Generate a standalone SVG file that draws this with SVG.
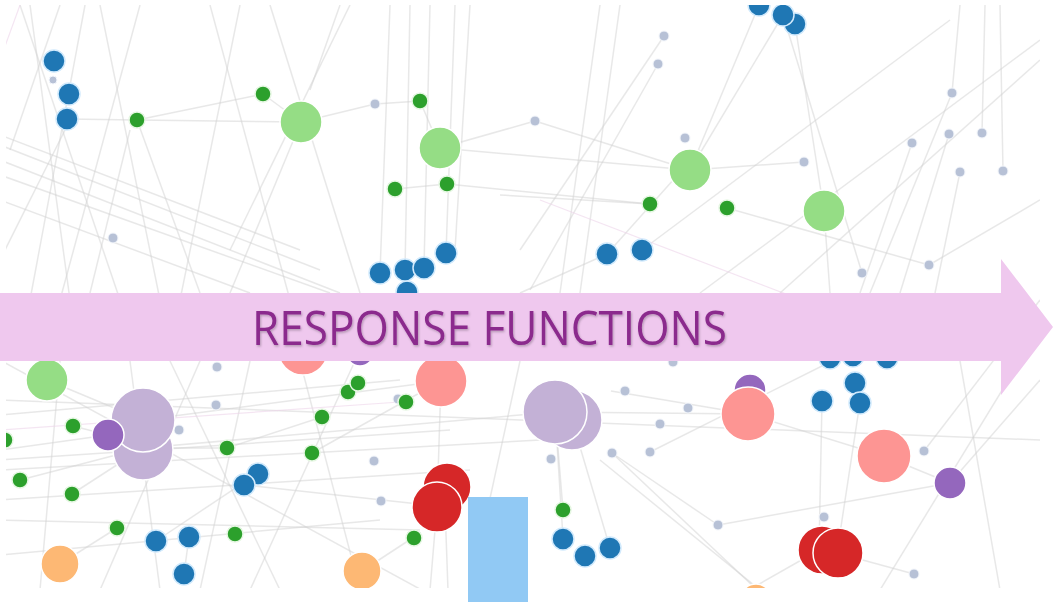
<svg xmlns="http://www.w3.org/2000/svg" width="1053" height="602" viewBox="0 0 1053 602">
<style>
.e{stroke:#d2d2d2;stroke-opacity:.5;stroke-width:1.5;fill:none}
.ep{stroke:#ecd3ea;stroke-opacity:.6;stroke-width:1.2}
.n circle{stroke:#fff;stroke-width:1.5}
.b{fill:#1f77b4;stroke:#d2eafc!important}
.g{fill:#2ca02c;stroke:#e6f7e3!important}
.lg{fill:#95dd85}
.s{fill:#b7c1d6;stroke:#f4f7fc!important;stroke-width:1!important}
.lp{fill:#c3b1d6}
.p{fill:#9467bd}
.r{fill:#d62728}
.lr{fill:#fd9593}
.o{fill:#fdb874}
</style>
<defs>
<clipPath id="cl"><rect x="6" y="5" width="1034" height="583"/></clipPath>
<filter id="sh" x="-5%" y="-20%" width="110%" height="140%"><feDropShadow dx="1" dy="1.5" stdDeviation="1" flood-color="#000" flood-opacity=".25"/></filter>
</defs>
<rect width="1053" height="602" fill="#fff"/>
<g clip-path="url(#cl)">
<g id="connectors" class="e">
<line x1="20" y1="5" x2="120" y2="300"/>
<line x1="60" y1="5" x2="10" y2="150"/>
<line x1="100" y1="5" x2="160" y2="300"/>
<line x1="140" y1="5" x2="60" y2="300"/>
<line x1="210" y1="5" x2="290" y2="300"/>
<line x1="70" y1="120" x2="0" y2="260"/>
<line x1="0" y1="160" x2="340" y2="293"/>
<line x1="0" y1="175" x2="330" y2="293"/>
<line x1="0" y1="200" x2="250" y2="293"/>
<line x1="0" y1="135" x2="300" y2="250"/>
<line x1="0" y1="145" x2="320" y2="270"/>
<line x1="30" y1="5" x2="70" y2="300"/>
<line x1="85" y1="5" x2="30" y2="300"/>
<line x1="240" y1="5" x2="180" y2="300"/>
<line x1="270" y1="5" x2="360" y2="293"/>
<line x1="67" y1="119" x2="137" y2="120"/>
<line x1="137" y1="120" x2="263" y2="94"/>
<line x1="137" y1="120" x2="301" y2="122"/>
<line x1="263" y1="94" x2="301" y2="122"/>
<line x1="301" y1="122" x2="375" y2="104"/>
<line x1="375" y1="104" x2="420" y2="101"/>
<line x1="420" y1="101" x2="440" y2="148"/>
<line x1="301" y1="122" x2="230" y2="293"/>
<line x1="137" y1="120" x2="200" y2="293"/>
<line x1="130" y1="130" x2="90" y2="293"/>
<line x1="340" y1="5" x2="310" y2="90"/>
<line x1="350" y1="5" x2="230" y2="250"/>
<line x1="390" y1="5" x2="380" y2="273"/>
<line x1="410" y1="5" x2="405" y2="270"/>
<line x1="455" y1="5" x2="446" y2="253"/>
<line x1="430" y1="5" x2="424" y2="268"/>
<line x1="470" y1="5" x2="455" y2="250"/>
<line x1="440" y1="148" x2="535" y2="121"/>
<line x1="447" y1="184" x2="650" y2="204"/>
<line x1="395" y1="189" x2="447" y2="184"/>
<line x1="440" y1="148" x2="690" y2="170"/>
<line x1="535" y1="121" x2="690" y2="170"/>
<line x1="664" y1="36" x2="520" y2="250"/>
<line x1="658" y1="64" x2="530" y2="290"/>
<line x1="690" y1="170" x2="759" y2="5"/>
<line x1="690" y1="170" x2="783" y2="15"/>
<line x1="795" y1="24" x2="824" y2="211"/>
<line x1="783" y1="15" x2="862" y2="273"/>
<line x1="690" y1="170" x2="804" y2="162"/>
<line x1="727" y1="208" x2="929" y2="265"/>
<line x1="650" y1="204" x2="500" y2="195"/>
<line x1="607" y1="254" x2="700" y2="150"/>
<line x1="642" y1="250" x2="950" y2="20"/>
<line x1="607" y1="254" x2="520" y2="293"/>
<line x1="824" y1="211" x2="830" y2="293"/>
<line x1="912" y1="143" x2="860" y2="293"/>
<line x1="952" y1="93" x2="960" y2="5"/>
<line x1="949" y1="134" x2="900" y2="293"/>
<line x1="982" y1="133" x2="985" y2="5"/>
<line x1="960" y1="172" x2="935" y2="293"/>
<line x1="1003" y1="171" x2="1000" y2="5"/>
<line x1="952" y1="93" x2="870" y2="293"/>
<line x1="700" y1="293" x2="1040" y2="40"/>
<line x1="780" y1="293" x2="1040" y2="60"/>
<line x1="929" y1="265" x2="1040" y2="200"/>
<line x1="600" y1="5" x2="560" y2="293"/>
<line x1="620" y1="5" x2="580" y2="293"/>
<line x1="47" y1="380" x2="143" y2="420"/>
<line x1="108" y1="435" x2="0" y2="450"/>
<line x1="143" y1="420" x2="441" y2="381"/>
<line x1="143" y1="448" x2="555" y2="412"/>
<line x1="0" y1="400" x2="1040" y2="440"/>
<line x1="0" y1="470" x2="540" y2="440"/>
<line x1="0" y1="500" x2="470" y2="470"/>
<line x1="0" y1="520" x2="420" y2="530"/>
<line x1="0" y1="555" x2="380" y2="520"/>
<line x1="0" y1="415" x2="400" y2="380"/>
<line x1="0" y1="460" x2="450" y2="430"/>
<line x1="108" y1="435" x2="73" y2="426"/>
<line x1="20" y1="480" x2="143" y2="448"/>
<line x1="72" y1="494" x2="143" y2="448"/>
<line x1="143" y1="448" x2="227" y2="448"/>
<line x1="227" y1="448" x2="322" y2="417"/>
<line x1="312" y1="453" x2="441" y2="381"/>
<line x1="244" y1="485" x2="437" y2="506"/>
<line x1="156" y1="541" x2="258" y2="473"/>
<line x1="184" y1="574" x2="189" y2="537"/>
<line x1="60" y1="564" x2="117" y2="528"/>
<line x1="362" y1="571" x2="414" y2="537"/>
<line x1="437" y1="506" x2="441" y2="381"/>
<line x1="437" y1="506" x2="430" y2="590"/>
<line x1="445" y1="506" x2="448" y2="590"/>
<line x1="555" y1="412" x2="563" y2="510"/>
<line x1="563" y1="538" x2="555" y2="412"/>
<line x1="572" y1="420" x2="610" y2="548"/>
<line x1="555" y1="412" x2="748" y2="414"/>
<line x1="611" y1="391" x2="748" y2="414"/>
<line x1="612" y1="453" x2="718" y2="525"/>
<line x1="650" y1="452" x2="830" y2="362"/>
<line x1="748" y1="414" x2="884" y2="456"/>
<line x1="884" y1="456" x2="950" y2="483"/>
<line x1="822" y1="401" x2="819" y2="550"/>
<line x1="860" y1="402" x2="837" y2="553"/>
<line x1="837" y1="553" x2="914" y2="574"/>
<line x1="754" y1="587" x2="819" y2="550"/>
<line x1="718" y1="525" x2="950" y2="483"/>
<line x1="612" y1="453" x2="754" y2="587"/>
<line x1="950" y1="483" x2="1040" y2="380"/>
<line x1="924" y1="451" x2="1040" y2="300"/>
<line x1="0" y1="360" x2="440" y2="600"/>
<line x1="200" y1="361" x2="100" y2="590"/>
<line x1="300" y1="361" x2="360" y2="590"/>
<line x1="520" y1="361" x2="470" y2="590"/>
<line x1="60" y1="361" x2="40" y2="590"/>
<line x1="250" y1="361" x2="200" y2="590"/>
<line x1="355" y1="361" x2="250" y2="590"/>
<line x1="130" y1="361" x2="160" y2="590"/>
<line x1="170" y1="361" x2="280" y2="590"/>
<line x1="600" y1="460" x2="760" y2="590"/>
<line x1="960" y1="361" x2="1000" y2="590"/>
<line x1="1020" y1="361" x2="880" y2="590"/>
<line class="ep" x1="0" y1="430" x2="400" y2="402"/>
<line class="ep" x1="540" y1="200" x2="880" y2="330"/>
<line class="ep" x1="20" y1="5" x2="0" y2="60"/>
</g>
<g class="n">
<g id="n1"><circle class="b" cx="54" cy="61" r="11"/></g>
<g id="n2"><circle class="s" cx="53" cy="80" r="4"/></g>
<g id="n3"><circle class="b" cx="69" cy="94" r="11"/></g>
<g id="n4"><circle class="b" cx="67" cy="119" r="11"/></g>
<g id="n5"><circle class="g" cx="137" cy="120" r="8"/></g>
<g id="n6"><circle class="g" cx="263" cy="94" r="8"/></g>
<g id="n7"><circle class="lg" cx="301" cy="122" r="21"/></g>
<g id="n8"><circle class="s" cx="375" cy="104" r="5"/></g>
<g id="n9"><circle class="g" cx="420" cy="101" r="8"/></g>
<g id="n10"><circle class="lg" cx="440" cy="148" r="21"/></g>
<g id="n11"><circle class="g" cx="395" cy="189" r="8"/></g>
<g id="n12"><circle class="g" cx="447" cy="184" r="8"/></g>
<g id="n13"><circle class="s" cx="113" cy="238" r="5"/></g>
<g id="n14"><circle class="b" cx="407" cy="292" r="11"/></g>
<g id="n15"><circle class="b" cx="380" cy="273" r="11"/></g>
<g id="n16"><circle class="b" cx="405" cy="270" r="11"/></g>
<g id="n17"><circle class="b" cx="424" cy="268" r="11"/></g>
<g id="n18"><circle class="b" cx="446" cy="253" r="11"/></g>
<g id="n19"><circle class="b" cx="759" cy="5" r="11"/></g>
<g id="n20"><circle class="b" cx="795" cy="24" r="11"/></g>
<g id="n21"><circle class="b" cx="783" cy="15" r="11"/></g>
<g id="n22"><circle class="s" cx="664" cy="36" r="5"/></g>
<g id="n23"><circle class="s" cx="658" cy="64" r="5"/></g>
<g id="n24"><circle class="s" cx="535" cy="121" r="5"/></g>
<g id="n25"><circle class="s" cx="685" cy="138" r="5"/></g>
<g id="n26"><circle class="lg" cx="690" cy="170" r="21"/></g>
<g id="n27"><circle class="g" cx="650" cy="204" r="8"/></g>
<g id="n28"><circle class="g" cx="727" cy="208" r="8"/></g>
<g id="n29"><circle class="s" cx="804" cy="162" r="5"/></g>
<g id="n30"><circle class="lg" cx="824" cy="211" r="21"/></g>
<g id="n31"><circle class="b" cx="607" cy="254" r="11"/></g>
<g id="n32"><circle class="b" cx="642" cy="250" r="11"/></g>
<g id="n33"><circle class="s" cx="862" cy="273" r="5"/></g>
<g id="n34"><circle class="s" cx="929" cy="265" r="5"/></g>
<g id="n35"><circle class="s" cx="912" cy="143" r="5"/></g>
<g id="n36"><circle class="s" cx="952" cy="93" r="5"/></g>
<g id="n37"><circle class="s" cx="949" cy="134" r="5"/></g>
<g id="n38"><circle class="s" cx="982" cy="133" r="5"/></g>
<g id="n39"><circle class="s" cx="960" cy="172" r="5"/></g>
<g id="n40"><circle class="s" cx="1003" cy="171" r="5"/></g>
<g id="n41"><circle class="lg" cx="47" cy="380" r="21"/></g>
<g id="n42"><circle class="lr" cx="303" cy="350" r="25"/></g>
<g id="n43"><circle class="p" cx="360" cy="352" r="14"/></g>
<g id="n44"><circle class="lr" cx="441" cy="381" r="26"/></g>
<g id="n45"><circle class="g" cx="348" cy="392" r="8"/></g>
<g id="n46"><circle class="g" cx="358" cy="383" r="8"/></g>
<g id="n47"><circle class="s" cx="217" cy="367" r="5"/></g>
<g id="n48"><circle class="s" cx="216" cy="405" r="5"/></g>
<g id="n49"><circle class="s" cx="179" cy="430" r="5"/></g>
<g id="n50"><circle class="lp" cx="143" cy="450" r="30"/></g>
<g id="n51"><circle class="lp" cx="143" cy="420" r="32"/></g>
<g id="n52"><circle class="p" cx="108" cy="435" r="16"/></g>
<g id="n53"><circle class="g" cx="73" cy="426" r="8"/></g>
<g id="n54"><circle class="g" cx="5" cy="440" r="8"/></g>
<g id="n55"><circle class="g" cx="20" cy="480" r="8"/></g>
<g id="n56"><circle class="g" cx="72" cy="494" r="8"/></g>
<g id="n57"><circle class="g" cx="227" cy="448" r="8"/></g>
<g id="n58"><circle class="g" cx="322" cy="417" r="8"/></g>
<g id="n59"><circle class="g" cx="312" cy="453" r="8"/></g>
<g id="n60"><circle class="s" cx="398" cy="399" r="5"/></g>
<g id="n61"><circle class="g" cx="406" cy="402" r="8"/></g>
<g id="n62"><circle class="s" cx="374" cy="461" r="5"/></g>
<g id="n63"><circle class="s" cx="381" cy="501" r="5"/></g>
<g id="n64"><circle class="b" cx="258" cy="474" r="11"/></g>
<g id="n65"><circle class="b" cx="244" cy="485" r="11"/></g>
<g id="n66"><circle class="g" cx="117" cy="528" r="8"/></g>
<g id="n67"><circle class="b" cx="156" cy="541" r="11"/></g>
<g id="n68"><circle class="b" cx="189" cy="537" r="11"/></g>
<g id="n69"><circle class="b" cx="184" cy="574" r="11"/></g>
<g id="n70"><circle class="g" cx="235" cy="534" r="8"/></g>
<g id="n71"><circle class="o" cx="60" cy="564" r="19"/></g>
<g id="n72"><circle class="o" cx="362" cy="571" r="19"/></g>
<g id="n73"><circle class="r" cx="447" cy="487" r="24"/></g>
<g id="n74"><circle class="r" cx="437" cy="507" r="25"/></g>
<g id="n75"><circle class="g" cx="414" cy="538" r="8"/></g>
<g id="n76"><circle class="lp" cx="572" cy="420" r="30"/></g>
<g id="n77"><circle class="lp" cx="555" cy="412" r="32"/></g>
<g id="n78"><circle class="s" cx="551" cy="459" r="5"/></g>
<g id="n79"><circle class="s" cx="625" cy="391" r="5"/></g>
<g id="n80"><circle class="s" cx="688" cy="408" r="5"/></g>
<g id="n81"><circle class="s" cx="660" cy="424" r="5"/></g>
<g id="n82"><circle class="s" cx="612" cy="453" r="5"/></g>
<g id="n83"><circle class="s" cx="650" cy="452" r="5"/></g>
<g id="n84"><circle class="s" cx="673" cy="362" r="5"/></g>
<g id="n85"><circle class="p" cx="750" cy="390" r="16"/></g>
<g id="n86"><circle class="lr" cx="748" cy="414" r="27"/></g>
<g id="n87"><circle class="b" cx="830" cy="358" r="11"/></g>
<g id="n88"><circle class="b" cx="853" cy="356" r="11"/></g>
<g id="n89"><circle class="b" cx="887" cy="358" r="11"/></g>
<g id="n90"><circle class="b" cx="855" cy="383" r="11"/></g>
<g id="n91"><circle class="b" cx="822" cy="401" r="11"/></g>
<g id="n92"><circle class="b" cx="860" cy="403" r="11"/></g>
<g id="n93"><circle class="lr" cx="884" cy="456" r="27"/></g>
<g id="n94"><circle class="s" cx="924" cy="451" r="5"/></g>
<g id="n95"><circle class="p" cx="950" cy="483" r="16"/></g>
<g id="n96"><circle class="g" cx="563" cy="510" r="8"/></g>
<g id="n97"><circle class="b" cx="563" cy="539" r="11"/></g>
<g id="n98"><circle class="b" cx="585" cy="556" r="11"/></g>
<g id="n99"><circle class="b" cx="610" cy="548" r="11"/></g>
<g id="n100"><circle class="s" cx="718" cy="525" r="5"/></g>
<g id="n101"><circle class="s" cx="824" cy="517" r="5"/></g>
<g id="n102"><circle class="r" cx="822" cy="550" r="24"/></g>
<g id="n103"><circle class="r" cx="838" cy="553" r="25"/></g>
<g id="n104"><circle class="s" cx="914" cy="574" r="5"/></g>
<g id="n105"><circle class="o" cx="756" cy="600" r="16"/></g>
</g>
</g>
<g id="arrow">
<path d="M0,293 H1001 V259 L1053,327 L1001,395 V361 H0 Z" fill="#efc8ee"/>
<text x="252" y="345" font-family="'Open Sans','Liberation Sans',sans-serif" font-size="47" fill="#8b2a8d" filter="url(#sh)" textLength="475" lengthAdjust="spacingAndGlyphs">RESPONSE FUNCTIONS</text>
</g>
<rect id="bar" x="468" y="497" width="60" height="105" fill="#91c9f4"/>
</svg>
